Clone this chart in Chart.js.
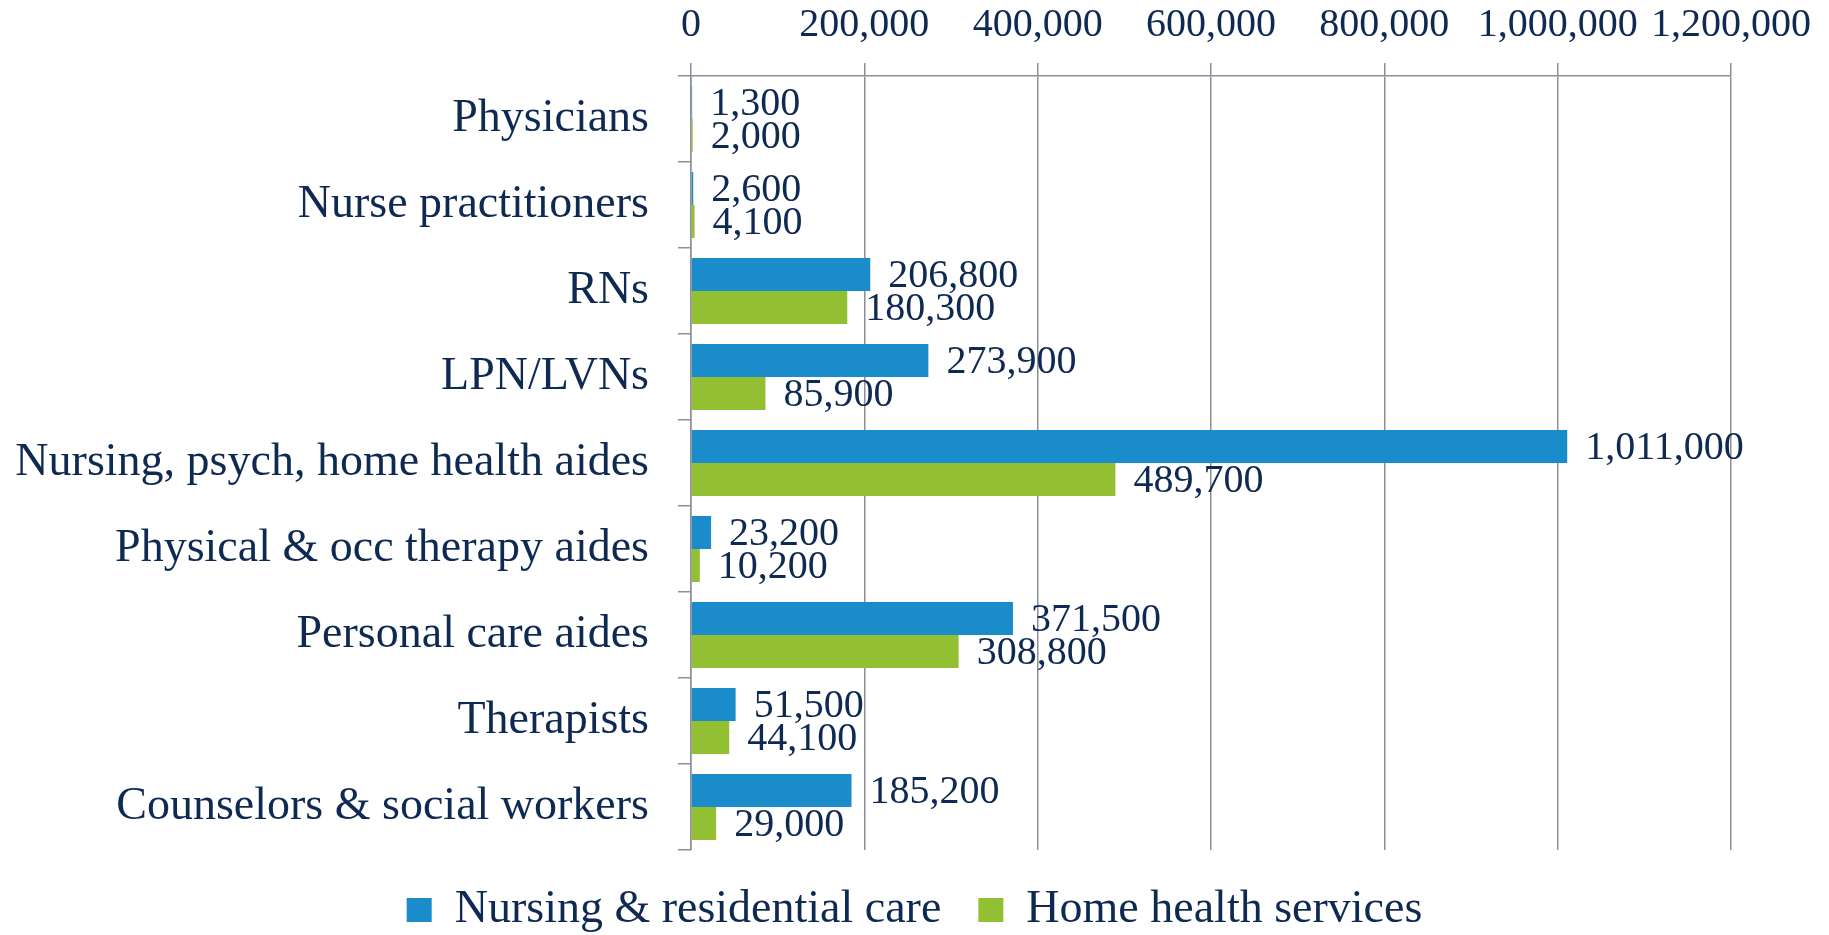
<!DOCTYPE html>
<html>
<head>
<meta charset="utf-8">
<script src="https://cdn.jsdelivr.net/npm/chart.js@4"></script>
<style>
  html, body { margin: 0; padding: 0; background: #ffffff; }
  #wrap { width: 1829px; height: 935px; position: relative; }
</style>
</head>
<body>
<div id="wrap"><canvas id="c"></canvas></div>
<script>
const categories = [
  'Physicians',
  'Nurse practitioners',
  'RNs',
  'LPN/LVNs',
  'Nursing, psych, home health aides',
  'Physical & occ therapy aides',
  'Personal care aides',
  'Therapists',
  'Counselors & social workers'
];
const nursingResidential = [1300, 2600, 206800, 273900, 1011000, 23200, 371500, 51500, 185200];
const homeHealth = [2000, 4100, 180300, 85900, 489700, 10200, 308800, 44100, 29000];
const seriesNames = ['Nursing & residential care', 'Home health services'];
const xTicks = [0, 200000, 400000, 600000, 800000, 1000000, 1200000];

const TEXT = '#0f2a52';
const GRID = '#8e8e98';
const FONT = "'Liberation Serif', 'DejaVu Serif', serif";

const fmt = v => v.toLocaleString('en-US');

const valueLabels = {
  id: 'valueLabels',
  afterDatasetsDraw(chart) {
    const ctx = chart.ctx;
    ctx.save();
    ctx.font = '40px ' + FONT;
    ctx.fillStyle = TEXT;
    ctx.textAlign = 'left';
    ctx.textBaseline = 'middle';
    chart.data.datasets.forEach((ds, di) => {
      const meta = chart.getDatasetMeta(di);
      meta.data.forEach((el, i) => {
        ctx.fillText(fmt(ds.data[i]), el.x + 18, el.y + 2);
      });
    });
    ctx.restore();
  }
};

new Chart(document.getElementById('c'), {
  type: 'bar',
  data: {
    labels: categories,
    datasets: [
      { label: seriesNames[0], data: nursingResidential, backgroundColor: '#1a8cc9', borderWidth: 0 },
      { label: seriesNames[1], data: homeHealth, backgroundColor: '#93bf33', borderWidth: 0 }
    ]
  },
  options: {
    indexAxis: 'y',
    responsive: true,
    maintainAspectRatio: false,
    animation: false,
    categoryPercentage: 0.767,
    barPercentage: 1.0,
    layout: { padding: { left: 0, right: 0, top: 0, bottom: -8 } },
    plugins: {
      legend: {
        position: 'bottom',
        labels: {
          font: { family: FONT, size: 46 },
          color: TEXT,
          boxWidth: 25,
          boxHeight: 24,
          padding: 37
        }
      },
      tooltip: { enabled: false }
    },
    scales: {
      x: {
        position: 'top',
        min: 0,
        max: 1200000,
        afterBuildTicks(scale) { scale.ticks = xTicks.map(v => ({ value: v })); },
        afterFit(scale) { scale.height = 76; },
        ticks: {
          font: { family: FONT, size: 40 },
          color: TEXT,
          padding: 14,
          maxRotation: 0,
          autoSkip: false,
          callback: v => fmt(v)
        },
        grid: { color: GRID, lineWidth: 1.5, tickLength: 13, drawTicks: true },
        border: { display: true, color: GRID, width: 1.5 }
      },
      y: {
        afterFit(scale) { scale.width = 691; },
        ticks: {
          font: { family: FONT, size: 46 },
          color: TEXT,
          padding: 29,
          autoSkip: false
        },
        grid: { drawOnChartArea: false, color: GRID, lineWidth: 1.5, tickLength: 13, offset: true },
        border: { display: true, color: GRID, width: 1.5 }
      },
      yRight: {
        type: 'category',
        position: 'right',
        labels: categories,
        afterFit(scale) { scale.width = 98; },
        ticks: { display: false },
        grid: { display: false, drawTicks: false },
        border: { display: false }
      }
    }
  },
  plugins: [valueLabels]
});
</script>
</body>
</html>
